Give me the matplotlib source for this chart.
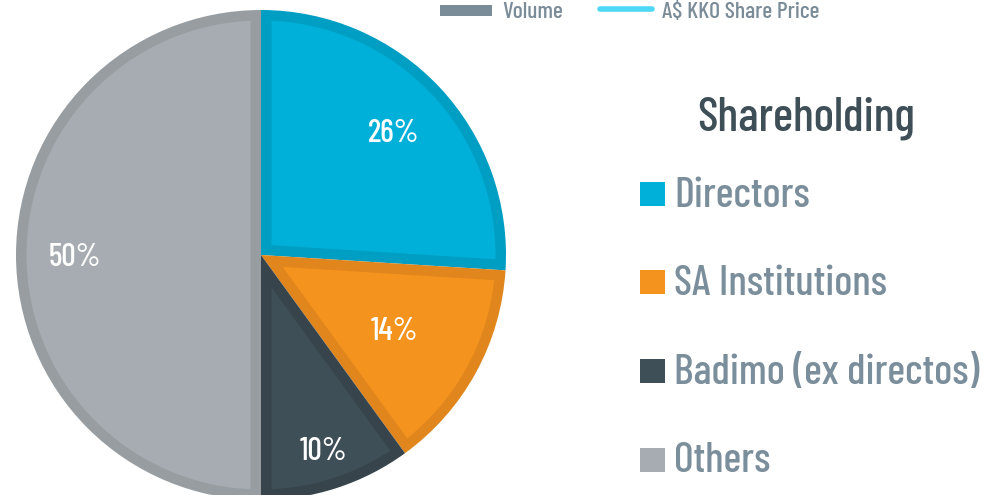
import matplotlib
matplotlib.use("Agg")
import matplotlib.pyplot as plt
import numpy as np
from matplotlib.patches import Rectangle, Polygon
from matplotlib.lines import Line2D
from matplotlib import font_manager as fm

categories = ["Directors", "SA Institutions", "Badimo (ex directos)", "Others"]
shares = [26, 14, 10, 50]
pct_labels = ["26%", "14%", "10%", "50%"]
top_legend = ["Volume", "A$ KKO Share Price"]
title = "Shareholding"

face_colors = ["#00B0D8", "#F4931E", "#3F4F57", "#A6ACB1"]
edge_colors = ["#009EC3", "#E0861C", "#37444B", "#979DA1"]
label_r = [0.745, 0.62, 0.83, 0.76]

available = {f.name for f in fm.fontManager.ttflist}
candidates = ["Barlow Condensed", "Barlow Semi Condensed", "Roboto Condensed",
              "Archivo Narrow", "PT Sans Narrow", "Open Sans Condensed", "Liberation Sans Narrow"]
chosen = next((c for c in candidates if c in available), None)
FAM = ([chosen] if chosen else []) + ["DejaVu Sans"]

W, H = 997, 495
fig = plt.figure(figsize=(W / 100, H / 100), dpi=100)
ax = fig.add_axes([0, 0, 1, 1])

cx, cy, R, B = 261, H - 255, 245, 10.5
wedges, _ = ax.pie(shares, colors=edge_colors, startangle=90, counterclock=False,
                   center=(cx, cy), radius=R, frame=True,
                   wedgeprops=dict(linewidth=0))
ax.set_xlim(0, W)
ax.set_ylim(0, H)
ax.set_aspect("equal")
ax.axis("off")

# inner (inset) fill of each wedge, leaving a uniform border of width B
r_in = R - B
delta = np.degrees(np.arcsin(B / r_in))
for w, fc in zip(wedges, face_colors):
    a1, a2 = w.theta1, w.theta2
    span = a2 - a1
    arc = np.radians(np.linspace(a1 + delta, a2 - delta, 200))
    pts = list(zip(cx + r_in * np.cos(arc), cy + r_in * np.sin(arc)))
    if span < 179.9:
        mid = np.radians((a1 + a2) / 2)
        d = B / np.sin(np.radians(span / 2))
        pts.append((cx + d * np.cos(mid), cy + d * np.sin(mid)))
    ax.add_patch(Polygon(pts, closed=True, facecolor=fc, edgecolor="none"))

# percentage labels
cum = np.cumsum([0] + shares[:-1])
for s, c0, lab, rr in zip(shares, cum, pct_labels, label_r):
    ang = np.deg2rad(90 - (c0 + s / 2) / sum(shares) * 360)
    ax.text(cx + rr * R * np.cos(ang), cy + rr * R * np.sin(ang), lab,
            color="white", fontsize=23, fontweight=500,
            ha="center", va="center_baseline", family=FAM)

# right legend
ax.text(806, H - 130, title, color="#3F4F57", fontsize=34.5, fontweight=500,
        ha="center", va="baseline", family=FAM)
sq_y = [193.5, 282, 370.5, 459.5]
txt_y = [207, 295, 384, 472]
for cat, fc, ys, yt in zip(categories, face_colors, sq_y, txt_y):
    ax.add_patch(Rectangle((640, H - ys - 12), 25, 24, facecolor=fc, edgecolor="none"))
    ax.text(674, H - yt, cat, color="#7A8E9B", fontsize=30.5, fontweight=500,
            ha="left", va="baseline", family=FAM)

# top legend (partially visible)
ax.add_patch(Rectangle((440, H - 16), 52, 11, facecolor="#7A8C98", edgecolor="none"))
ax.text(502, H - 18, top_legend[0], color="#7A8C98", fontsize=17, fontweight=500,
        ha="left", va="baseline", family=FAM)
ax.add_line(Line2D([600, 652], [H - 9, H - 9], color="#4DD8F5", linewidth=4, solid_capstyle="round"))
ax.text(662, H - 18, top_legend[1], color="#7A8C98", fontsize=17, fontweight=500,
        ha="left", va="baseline", family=FAM)

fig.savefig("out.png", dpi=100)
